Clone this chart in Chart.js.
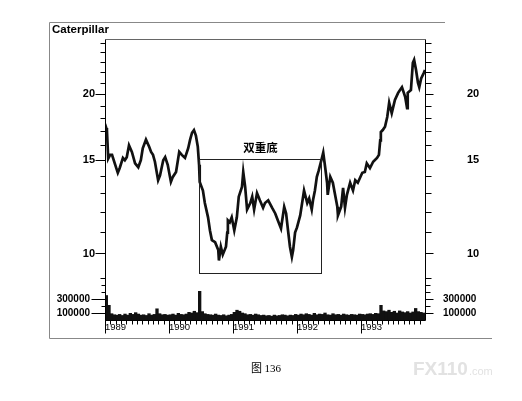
<!DOCTYPE html>
<html>
<head>
<meta charset="utf-8">
<script src="https://cdn.jsdelivr.net/npm/chart.js@4.4.1/dist/chart.umd.min.js"></script>
<style>
  html, body { margin: 0; padding: 0; background: #fff; }
  #wrap { width: 522px; height: 401px; }
</style>
</head>
<body>
<div id="wrap"><canvas id="myChart" width="522" height="401"></canvas></div>
<script>
// price trace, fractional years and closing price
const priceDates = [1989.00,1989.02,1989.03,1989.05,1989.08,1989.11,1989.16,1989.20,1989.23,1989.28,1989.31,1989.34,1989.375,1989.42,1989.47,1989.52,1989.56,1989.59,1989.64,1989.69,1989.72,1989.75,1989.78,1989.83,1989.86,1989.91,1989.94,1989.98,
  1990.03,1990.06,1990.11,1990.16,1990.20,1990.25,1990.30,1990.33,1990.36,1990.39,1990.42,1990.45,1990.47,1990.48,1990.53,1990.56,1990.61,1990.64,1990.67,1990.72,1990.77,1990.78,1990.81,1990.84,1990.89,1990.91,1990.92,1990.95,1990.98,
  1991.02,1991.06,1991.09,1991.14,1991.16,1991.19,1991.22,1991.27,1991.30,1991.33,1991.375,1991.42,1991.47,1991.50,1991.55,1991.61,1991.66,1991.70,1991.75,1991.80,1991.83,1991.86,1991.89,1991.92,1991.94,1991.97,
  1992.00,1992.05,1992.08,1992.11,1992.16,1992.19,1992.23,1992.25,1992.28,1992.31,1992.34,1992.39,1992.41,1992.44,1992.47,1992.48,1992.52,1992.56,1992.59,1992.63,1992.64,1992.69,1992.72,1992.75,1992.78,1992.83,1992.875,1992.91,1992.95,
  1993.02,1993.06,1993.09,1993.14,1993.19,1993.25,1993.28,1993.30,1993.31,1993.34,1993.375,1993.41,1993.44,1993.48,1993.53,1993.58,1993.61,1993.64,1993.69,1993.72,1993.73,1993.78,1993.81,1993.83,1993.86,1993.89,1993.91,1993.94,1993.98,1994.00];
const priceValues = [16.9,17.25,17.1,15.1,15.35,15.35,14.7,14.2,14.5,15.15,15.0,15.2,16.0,15.55,14.8,14.55,15.0,15.8,16.4,15.9,15.55,15.35,14.9,13.75,14.05,15.0,15.2,14.7,
  13.65,13.95,14.25,15.55,15.35,15.15,15.8,16.4,16.9,17.1,16.7,15.9,14.7,13.65,13.15,12.45,11.7,11.05,10.6,10.5,10.15,9.7,10.3,9.95,10.3,10.95,11.55,11.45,11.7,
  11.05,11.7,12.8,13.35,14.25,13.35,12.1,12.45,12.8,12.1,13.0,12.6,12.2,12.45,12.6,12.2,11.9,11.55,11.15,12.25,11.9,11.05,10.3,9.85,10.15,10.95,
  11.2,11.8,12.45,13.15,12.45,12.7,12.1,12.6,13.15,13.95,14.35,15.15,15.5,14.55,13.6,12.9,13.95,13.6,13.0,12.25,11.8,12.25,13.3,12.2,12.9,13.6,13.15,13.75,13.6,
  14.2,14.25,14.8,14.5,14.9,15.15,15.35,16.35,16.95,17.1,17.35,18.1,19.25,18.4,19.5,20.1,20.35,20.6,19.75,18.8,20.1,20.35,22.9,23.2,22.2,21.0,20.6,21.4,21.9,22.2];

// volume, one value per half month from Jan 1989
const volumeStart = 1989;
const volumePerYear = 24;
const volumeValues = [
  350000,210000,90000,75000,70000,80000,65000,85000,70000,95000,80000,105000,85000,70000,75000,65000,90000,70000,80000,160000,90000,75000,80000,70000,
  75000,85000,70000,95000,80000,75000,85000,110000,100000,125000,105000,410000,120000,90000,80000,75000,70000,85000,70000,65000,75000,60000,70000,80000,
  110000,140000,125000,100000,90000,75000,80000,70000,85000,75000,65000,70000,60000,65000,55000,70000,60000,65000,75000,70000,60000,70000,65000,80000,
  70000,85000,75000,90000,80000,70000,95000,75000,85000,80000,100000,75000,70000,90000,75000,80000,70000,85000,75000,70000,80000,75000,70000,85000,
  80000,75000,85000,90000,80000,95000,90000,210000,130000,120000,140000,110000,125000,100000,130000,115000,105000,120000,100000,115000,165000,120000,110000,100000];

const yearLabels = [1989, 1990, 1991, 1992, 1993];
const priceTicks = [9,10,11,12,13,14,15,16,17,18,19,20,21,22,23,24,25];
const priceLabels = [10, 15, 20];
const volumeTicks = [0, 100000, 200000, 300000, 400000, 500000];
const volumeLabels = [100000, 300000];

// double bottom box: from/to in years, top/bottom in price
const patternFrom = 1990.47;
const patternTo = 1992.375;
const patternTop = 15.07;
const patternBottom = 9.18;
const patternText = '双重底';

const sans = "'Liberation Sans', Arial, sans-serif";

const priceData = priceDates.map((d, i) => ({ x: d, y: priceValues[i] }));
const volumeData = volumeValues.map((v, i) => ({ x: volumeStart + (i + 0.5) / volumePerYear, y: v }));

// keep label padding from pushing the plot area around
function fixSize(width, height) {
  return s => {
    if (width) s.width = width;
    if (height) s.height = height;
    s.paddingTop = 0; s.paddingBottom = 0; s.paddingLeft = 0; s.paddingRight = 0;
  };
}

const extras = {
  id: 'extras',
  beforeDraw(chart) {
    const ctx = chart.ctx;
    ctx.save();
    ctx.fillStyle = '#fff';
    ctx.fillRect(0, 0, chart.width, chart.height);
    ctx.restore();
  },
  afterDraw(chart) {
    const { ctx, chartArea: a, scales } = chart;
    ctx.save();

    // outer frame
    ctx.strokeStyle = '#888';
    ctx.lineWidth = 1;
    ctx.beginPath();
    ctx.moveTo(445, 22.5); ctx.lineTo(49.5, 22.5); ctx.lineTo(49.5, 338.5); ctx.lineTo(492, 338.5);
    ctx.stroke();

    // plot border
    const L = Math.round(a.left) + 0.5, R = Math.round(a.right) + 0.5;
    const T = Math.round(a.top) + 0.5, B = Math.round(a.bottom) + 0.5;
    ctx.strokeStyle = '#666';
    ctx.beginPath(); ctx.moveTo(L, T); ctx.lineTo(R, T); ctx.stroke();
    ctx.strokeStyle = '#000';
    ctx.beginPath();
    ctx.moveTo(L, T); ctx.lineTo(L, B + 13);
    ctx.moveTo(R, T); ctx.lineTo(R, B);
    ctx.moveTo(L, B); ctx.lineTo(R, B);
    ctx.stroke();

    // y tick marks
    const yTicks = (scale, values, majors, x, dir, majorLen, minorLen) => {
      values.forEach(v => {
        const y = Math.round(scale.getPixelForValue(v)) + 0.5;
        const len = majors.includes(v) ? majorLen : minorLen;
        ctx.moveTo(x, y); ctx.lineTo(x + dir * len, y);
      });
    };
    ctx.beginPath();
    yTicks(scales.price, priceTicks, priceLabels, L, -1, 10, 5);
    yTicks(scales.vol, volumeTicks.slice(1), volumeLabels, L, -1, 14, 4);
    yTicks(scales.priceR, priceTicks, priceLabels, R, 1, 8, 6);
    yTicks(scales.volR, volumeTicks.slice(1), volumeLabels, R, 1, 8, 5);
    ctx.stroke();

    // month and year tick marks on the date axis
    const xs = scales.x;
    ctx.beginPath();
    for (let m = 1; m < 60; m++) {
      const v = 1989 + m / 12;
      const x = Math.round(xs.getPixelForValue(v)) + 0.5;
      const len = m % 12 === 0 ? 13 : 4;
      ctx.moveTo(x, B); ctx.lineTo(x, B + len);
    }
    ctx.stroke();

    // double bottom box
    const bx1 = Math.round(xs.getPixelForValue(patternFrom)) + 0.5;
    const bx2 = Math.round(xs.getPixelForValue(patternTo)) + 0.5;
    const by1 = Math.round(scales.price.getPixelForValue(patternTop)) + 0.5;
    const by2 = Math.round(scales.price.getPixelForValue(patternBottom)) + 0.5;
    ctx.strokeStyle = '#222';
    ctx.strokeRect(bx1, by1, bx2 - bx1, by2 - by1);
    ctx.fillStyle = '#000';
    ctx.font = "bold 11.5px 'Noto Sans CJK SC', sans-serif";
    ctx.textAlign = 'center';
    ctx.textBaseline = 'middle';
    ctx.fillText(patternText, (bx1 + bx2) / 2, by1 - 12);

    // title
    ctx.textAlign = 'left';
    ctx.textBaseline = 'alphabetic';
    ctx.font = 'bold 11.5px ' + sans;
    ctx.fillText('Caterpillar', 52, 33);

    // caption
    ctx.textAlign = 'center';
    ctx.font = "11px 'Liberation Serif', 'Noto Sans CJK SC', serif";
    ctx.fillText('图 136', 266, 372);

    // watermark
    ctx.textAlign = 'left';
    ctx.fillStyle = '#e2e2e2';
    ctx.font = 'bold 19px ' + sans;
    ctx.fillText('FX110', 413, 375);
    const w = ctx.measureText('FX110').width;
    ctx.font = '11px ' + sans;
    ctx.fillText('.com', 414 + w, 375);

    ctx.restore();
  }
};

const ctx = document.getElementById('myChart').getContext('2d');
const myChart = new Chart(ctx, {
  type: 'line',
  data: {
    datasets: [
      {
        label: 'Caterpillar',
        data: priceData,
        xAxisID: 'x',
        yAxisID: 'price',
        borderColor: '#111',
        borderWidth: 2.7,
        pointRadius: 0,
        tension: 0,
        fill: false,
      },
      {
        type: 'bar',
        label: 'Volume',
        data: volumeData,
        xAxisID: 'x',
        yAxisID: 'vol',
        backgroundColor: '#111',
        borderWidth: 0,
        barPercentage: 1,
        categoryPercentage: 1,
      },
    ],
  },
  options: {
    responsive: false,
    animation: false,
    layout: { padding: { left: 49, right: 22, top: 39, bottom: 61 } },
    plugins: { legend: { display: false }, tooltip: { enabled: false }, title: { display: false } },
    scales: {
      x: {
        type: 'linear',
        position: 'bottom',
        offset: false,
        min: 1989,
        max: 1994,
        grid: { display: false, offset: false, drawTicks: false },
        border: { display: false },
        afterBuildTicks: s => { s.ticks = yearLabels.map(v => ({ value: v })); },
        ticks: {
          callback: v => yearLabels.includes(v) ? String(v) : '',
          align: 'start',
          padding: 2,
          maxRotation: 0,
          autoSkip: false,
          color: '#000',
          font: { family: sans, size: 9.5 },
        },
        afterFit: fixSize(0, 20),
      },
      price: {
        type: 'logarithmic',
        position: 'left',
        stack: 'left',
        stackWeight: 246,
        weight: 1,
        min: 8.72,
        max: 25.4,
        grid: { display: false, drawTicks: false },
        border: { display: false },
        afterBuildTicks: s => { s.ticks = priceTicks.map(v => ({ value: v })); },
        ticks: {
          callback: v => priceLabels.includes(v) ? String(v) : '',
          padding: 10,
          autoSkip: false,
          color: '#000',
          font: { family: sans, size: 11, weight: 'bold' },
        },
        afterFit: fixSize(56, 0),
      },
      vol: {
        type: 'linear',
        position: 'left',
        stack: 'left',
        stackWeight: 35,
        weight: 0,
        min: 0,
        max: 500000,
        grid: { display: false, drawTicks: false },
        border: { display: false },
        afterBuildTicks: s => { s.ticks = volumeLabels.map(v => ({ value: v })); },
        ticks: {
          callback: v => String(v),
          padding: 15,
          autoSkip: false,
          color: '#000',
          font: { family: sans, size: 10, weight: 'bold' },
        },
        afterFit: fixSize(56, 0),
      },
      priceR: {
        type: 'logarithmic',
        position: 'right',
        stack: 'right',
        stackWeight: 246,
        min: 8.72,
        max: 25.4,
        grid: { display: false, drawTicks: false },
        border: { display: false },
        afterBuildTicks: s => { s.ticks = priceLabels.map(v => ({ value: v })); },
        ticks: {
          callback: v => String(v),
          padding: 42,
          autoSkip: false,
          color: '#000',
          font: { family: sans, size: 11, weight: 'bold' },
        },
        afterFit: fixSize(75, 0),
      },
      volR: {
        type: 'linear',
        position: 'right',
        stack: 'right',
        stackWeight: 35,
        min: 0,
        max: 500000,
        grid: { display: false, drawTicks: false },
        border: { display: false },
        afterBuildTicks: s => { s.ticks = volumeLabels.map(v => ({ value: v })); },
        ticks: {
          callback: v => String(v),
          padding: 18,
          autoSkip: false,
          color: '#000',
          font: { family: sans, size: 10, weight: 'bold' },
        },
        afterFit: fixSize(75, 0),
      },
    },
  },
  plugins: [extras],
});
</script>
</body>
</html>
